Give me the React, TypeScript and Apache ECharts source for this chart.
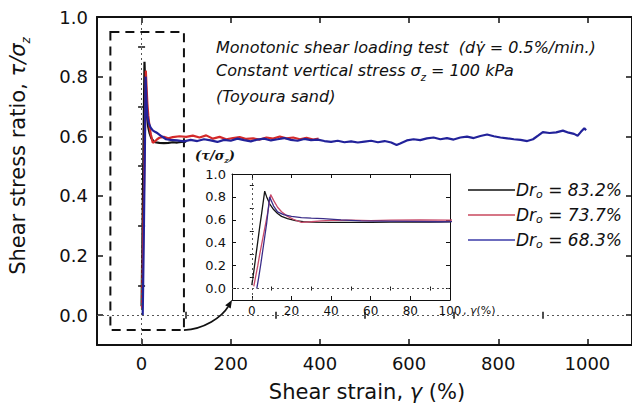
import React, { useEffect, useRef } from 'react';
import * as echarts from 'echarts';

// ---------- data (shear strain γ in %, stress ratio τ/σz) ----------
const blackGamma = [0, 1, 2, 3, 4, 5, 6.5, 7.5, 9, 11, 13, 15, 18, 22, 26, 30, 40, 50, 60, 70, 80, 90, 100];
const blackRatio = [0.03, 0.15, 0.28, 0.41, 0.54, 0.66, 0.85, 0.8, 0.74, 0.69, 0.655, 0.63, 0.61, 0.593, 0.585, 0.58, 0.578, 0.577, 0.578, 0.58, 0.579, 0.581, 0.582];

const redGamma = [1, 2, 3, 4, 5, 6, 7, 8, 9.5, 11, 13, 15, 18, 21, 25, 30, 35, 40, 50, 60, 70, 85, 100, 115, 130, 145, 160, 175, 190, 205, 220, 235, 250, 265, 280, 295, 310, 325, 340, 355, 370, 385, 397];
const redRatio = [0.02, 0.11, 0.2, 0.3, 0.39, 0.48, 0.57, 0.66, 0.82, 0.77, 0.71, 0.67, 0.63, 0.605, 0.578, 0.583, 0.59, 0.595, 0.598, 0.593, 0.597, 0.6, 0.598, 0.602, 0.596, 0.603, 0.592, 0.598, 0.59, 0.594, 0.597, 0.591, 0.593, 0.589, 0.596, 0.592, 0.599, 0.593, 0.596, 0.59, 0.595, 0.589, 0.592];

const blueGamma = [2.5, 3.5, 4.5, 5.5, 6.5, 7.5, 9, 11, 13, 16, 20, 25, 30, 36, 45, 55, 65, 80, 95, 110, 125, 140, 155, 170, 185, 200, 215, 230, 245, 260, 275, 290, 305, 320, 335, 350, 365, 380, 395, 410, 425, 440, 455, 470, 485, 500, 515, 530, 545, 560, 572, 580, 595, 610, 625, 640, 655, 670, 685, 700, 715, 730, 745, 760, 775, 790, 805, 820, 835, 850, 865, 878, 890, 900, 915, 930, 945, 958, 970, 978, 985, 993, 997];
const blueRatio = [0.0, 0.1, 0.21, 0.33, 0.45, 0.57, 0.8, 0.72, 0.67, 0.645, 0.63, 0.62, 0.615, 0.61, 0.6, 0.59, 0.588, 0.586, 0.583, 0.588, 0.584, 0.59, 0.586, 0.581, 0.588, 0.585, 0.592, 0.587, 0.583, 0.589, 0.592, 0.586, 0.59, 0.594, 0.588, 0.585, 0.591, 0.587, 0.589, 0.584, 0.581, 0.585, 0.58, 0.583, 0.579, 0.582, 0.585, 0.58, 0.584, 0.579, 0.571, 0.576, 0.586, 0.59, 0.587, 0.593, 0.596, 0.59, 0.594, 0.589, 0.596, 0.599, 0.594, 0.601, 0.606, 0.6, 0.596, 0.593, 0.59, 0.588, 0.584, 0.59, 0.603, 0.614, 0.611, 0.613, 0.619, 0.612, 0.608, 0.602, 0.614, 0.627, 0.62];

const seriesNames = ['Dr83', 'Dr73', 'Dr68'];
const seriesLabels = ['83.2%', '73.7%', '68.3%'];

const mainXMajor = [0, 200, 400, 600, 800, 1000];
const mainXMinor = [100, 300, 500, 700, 900];
const mainYMajor = [0, 0.2, 0.4, 0.6, 0.8, 1.0];
const mainYMinor = [0.1, 0.3, 0.5, 0.7, 0.9];
const insetXMajor = [0, 20, 40, 60, 80, 100];
const insetXMinor = [10, 30, 50, 70, 90];
const insetYMajor = [0, 0.2, 0.4, 0.6, 0.8, 1.0];
const insetYMinor = [0.1, 0.3, 0.5, 0.7, 0.9];

const FF = 'DejaVu Sans';
const INK = '#111';
const COLORS = ['#111111', '#d42a2a', '#22229a'];
const INSET_COLORS = ['#151515', '#c84a6a', '#3a2c88'];
const LEGEND_COLORS = ['#111111', '#c8485e', '#3b3ba8'];

const zip = (a: number[], b: number[]) => a.map((v, i) => [v, b[i]]);

function axes(kind: 'x' | 'y', grid: number, min: number, max: number, major: number[], minor: number[], s: any) {
  const pos = kind === 'x' ? ['bottom', 'top'] : ['left', 'right'];
  const base = { gridIndex: grid, type: 'value', min, max, splitLine: { show: false } };
  const line = { show: true, onZero: false, lineStyle: { color: INK, width: s.lw } };
  const tickStyle = { color: INK, width: s.tw };
  const majorTick = { show: true, inside: true, length: s.major, customValues: major, lineStyle: tickStyle };
  const minorTick = { show: true, inside: true, length: s.minor, customValues: minor, lineStyle: tickStyle };
  return [
    {
      ...base, position: pos[0], axisLine: line, axisTick: majorTick,
      axisLabel: { show: true, customValues: major, formatter: s.fmt, fontFamily: FF, fontSize: s.fs, color: INK, margin: s.margin },
    },
    { ...base, position: pos[0], axisLine: { show: false }, axisTick: minorTick, axisLabel: { show: false } },
    { ...base, position: pos[1], axisLine: line, axisTick: majorTick, axisLabel: { show: false } },
    { ...base, position: pos[1], axisLine: { show: false }, axisTick: minorTick, axisLabel: { show: false } },
  ];
}

const App: React.FC = () => {
  const ref = useRef<HTMLDivElement>(null);

  useEffect(() => {
    if (!ref.current) return;
    const chart = echarts.init(ref.current, null, { renderer: 'svg' });

    const mainStyle = { lw: 2, tw: 1.5, major: 6, minor: 3.5, fs: 18, margin: 9 };
    const insetStyle = { lw: 1, tw: 1, major: 4, minor: 2, fs: 12, margin: 5 };

    const datasets = [zip(blackGamma, blackRatio), zip(redGamma, redRatio), zip(blueGamma, blueRatio)];

    const zeroLines = {
      silent: true,
      symbol: ['none', 'none'],
      label: { show: false },
      lineStyle: { type: [2, 3], color: '#555', width: 1 },
      data: [{ xAxis: 0 }, { yAxis: 0 }],
    };

    const mainSeries = datasets.map((d, i) => ({
      name: seriesNames[i], type: 'line', xAxisIndex: 0, yAxisIndex: 0, data: d,
      symbol: 'none', clip: true,
      lineStyle: { color: COLORS[i], width: 2.2 }, itemStyle: { color: LEGEND_COLORS[i] },
      ...(i === 0 ? { markLine: zeroLines } : {}),
    }));
    const insetSeries = datasets.map((d, i) => ({
      name: seriesNames[i], type: 'line', xAxisIndex: 4, yAxisIndex: 4, data: d,
      symbol: 'none', clip: true,
      lineStyle: { color: INSET_COLORS[i], width: 1.3 }, itemStyle: { color: LEGEND_COLORS[i] },
      ...(i === 0 ? { markLine: zeroLines } : {}),
    }));

    const richLegend = {
      a: { fontFamily: FF, fontStyle: 'italic', fontSize: 17, color: INK, verticalAlign: 'middle', lineHeight: 20 },
      s: { fontFamily: FF, fontStyle: 'italic', fontSize: 11, color: INK, verticalAlign: 'bottom', lineHeight: 20 },
    };

    chart.setOption({
      animation: false,
      backgroundColor: '#ffffff',
      grid: [
        { left: 97, top: 17, width: 537, height: 328 },
        { left: 232, top: 174, width: 218, height: 126, show: true, backgroundColor: '#ffffff', borderWidth: 0 },
      ],
      xAxis: [
        ...axes('x', 0, -100, 1100, mainXMajor, mainXMinor, { ...mainStyle, fmt: (v: number) => String(v) }),
        ...axes('x', 1, -10, 100, insetXMajor, insetXMinor, { ...insetStyle, fmt: (v: number) => String(v) }),
      ],
      yAxis: [
        ...axes('y', 0, -0.1, 1.0, mainYMajor, mainYMinor, { ...mainStyle, fmt: (v: number) => v.toFixed(1) }),
        ...axes('y', 1, -0.1, 1.0, insetYMajor, insetYMinor, { ...insetStyle, fs: 13, margin: 6, fmt: (v: number) => v.toFixed(1) }),
      ],
      legend: {
        data: seriesNames,
        orient: 'vertical',
        left: 463,
        top: 175,
        icon: 'rect',
        itemWidth: 47,
        itemHeight: 1.6,
        itemGap: 5,
        formatter: (name: string) => `{a|Dr}{s|o}{a| = ${seriesLabels[seriesNames.indexOf(name)]}}`,
        textStyle: { fontFamily: FF, fontStyle: 'italic', fontSize: 17, color: INK, lineHeight: 20, padding: [0, 0, 0, -4], rich: richLegend },
      },
      series: [...mainSeries, ...insetSeries],
    });

    const toPx = (s: number, x: number, y: number) => chart.convertToPixel({ seriesIndex: s }, [x, y]) as number[];
    const r0 = toPx(0, -70, 0.95);
    const r1 = toPx(0, 95, -0.05);
    const corner = toPx(3, -10, -0.1);
    const start = [r1[0], r1[1]];
    const cp1 = [start[0] + 20, start[1] - 1];
    const cp2 = [corner[0] - 10, corner[1] + 17];
    const dx = corner[0] - cp2[0];
    const dy = corner[1] - cp2[1];
    const len = Math.hypot(dx, dy);
    const ux = dx / len, uy = dy / len;
    const headL = 8, headW = 3.2;
    const bx = corner[0] - ux * headL, by = corner[1] - uy * headL;
    const tip = corner;

    const sub = (size: number, italic = true) => ({
      fontFamily: FF, fontStyle: italic ? 'italic' : 'normal', fontSize: size, fill: INK, verticalAlign: 'bottom', lineHeight: 24,
    });

    chart.setOption({
      graphic: [
        {
          type: 'rect', silent: true,
          shape: { x: r0[0], y: r0[1], width: r1[0] - r0[0], height: r1[1] - r0[1] },
          style: { fill: 'none', stroke: INK, lineWidth: 2, lineDash: [9, 6] },
        },
        {
          type: 'bezierCurve', silent: true,
          shape: { x1: start[0], y1: start[1], cpx1: cp1[0], cpy1: cp1[1], cpx2: cp2[0], cpy2: cp2[1], x2: bx, y2: by },
          style: { fill: 'none', stroke: INK, lineWidth: 1.8 },
        },
        {
          type: 'polygon', silent: true,
          shape: { points: [[tip[0], tip[1]], [bx - uy * headW, by + ux * headW], [bx + uy * headW, by - ux * headW]] },
          style: { fill: INK },
        },
        {
          type: 'text', x: 216, y: 47, silent: true,
          style: { text: 'Monotonic shear loading test  (dγ̇ = 0.5%/min.)', font: `italic 16px "${FF}"`, fill: INK, verticalAlign: 'middle' },
        },
        {
          type: 'text', x: 216, y: 70, silent: true,
          style: {
            text: '{a|Constant vertical stress σ}{s|z}{a| = 100 kPa}', verticalAlign: 'middle',
            rich: {
              a: { fontFamily: FF, fontStyle: 'italic', fontSize: 16, fill: INK, verticalAlign: 'middle', lineHeight: 24 },
              s: sub(10),
            },
          },
        },
        {
          type: 'text', x: 216, y: 96, silent: true,
          style: { text: '(Toyoura sand)', font: `italic 16px "${FF}"`, fill: INK, verticalAlign: 'middle' },
        },
        {
          type: 'text', x: 18, y: 156, rotation: Math.PI / 2, silent: true,
          style: {
            text: '{a|Shear stress ratio, }{i|τ/σ}{s|z}', align: 'center', verticalAlign: 'middle',
            rich: {
              a: { fontFamily: FF, fontSize: 21, fill: INK, verticalAlign: 'middle', lineHeight: 28 },
              i: { fontFamily: FF, fontStyle: 'italic', fontSize: 21, fill: INK, verticalAlign: 'middle', lineHeight: 28 },
              s: { ...sub(12), lineHeight: 28 },
            },
          },
        },
        {
          type: 'text', x: 367, y: 392, silent: true,
          style: {
            text: '{a|Shear strain, }{i|γ}{a| (%)}', align: 'center', verticalAlign: 'middle',
            rich: {
              a: { fontFamily: FF, fontSize: 21, fill: INK, verticalAlign: 'middle' },
              i: { fontFamily: FF, fontStyle: 'italic', fontSize: 21, fill: INK, verticalAlign: 'middle' },
            },
          },
        },
        {
          type: 'text', x: 195, y: 155, silent: true,
          style: {
            text: '{a|(τ/σ}{s|z}{a|)}', verticalAlign: 'middle',
            rich: {
              a: { fontFamily: 'DejaVu Serif', fontStyle: 'italic', fontWeight: 'bold', fontSize: 13, fill: INK, verticalAlign: 'middle', lineHeight: 18 },
              s: { fontFamily: 'DejaVu Serif', fontStyle: 'italic', fontWeight: 'bold', fontSize: 8, fill: INK, verticalAlign: 'bottom', lineHeight: 18 },
            },
          },
        },
        {
          type: 'text', x: 463, y: 310, silent: true,
          style: {
            text: '{a|, }{i|γ}{a|(%)}', verticalAlign: 'middle',
            rich: {
              a: { fontFamily: FF, fontSize: 11, fill: INK, verticalAlign: 'middle' },
              i: { fontFamily: FF, fontStyle: 'italic', fontSize: 11, fill: INK, verticalAlign: 'middle' },
            },
          },
        },
      ],
    });

    return () => chart.dispose();
  }, []);

  return <div ref={ref} style={{ position: 'absolute', left: 0, top: 0, width: 632, height: 406 }} />;
};

export default App;
